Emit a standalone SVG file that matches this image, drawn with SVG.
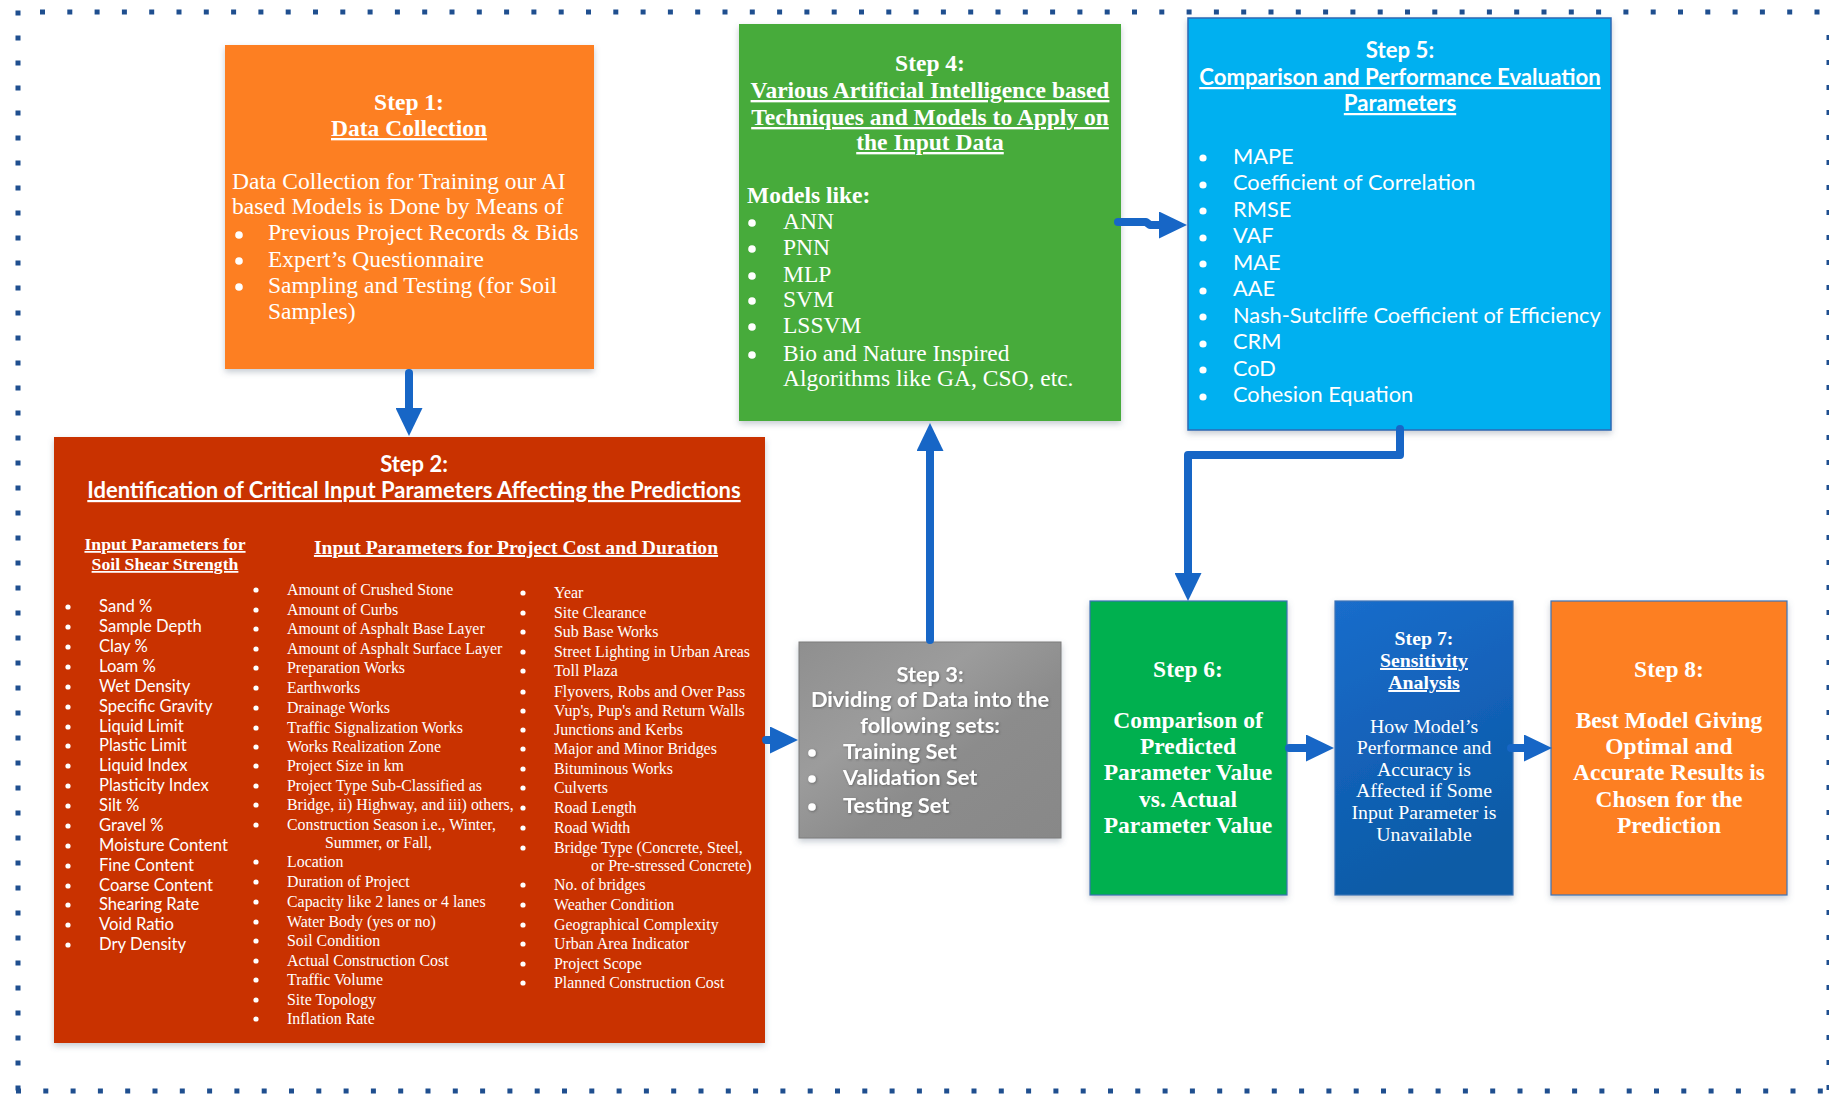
<svg xmlns="http://www.w3.org/2000/svg" width="1829" height="1094" viewBox="0 0 1829 1094">
  <style>
    text { fill: #ffffff; }
    .serif { font-family: "Liberation Serif", "Times New Roman", serif; }
    .sans { font-family: Lato, "Noto Sans", sans-serif; }
    .b { font-weight: bold; }
    .u { text-decoration: underline; }
    .c { text-anchor: middle; }
    .dot { fill: #ffffff; }
    .frame { stroke: #1f4f8f; stroke-width: 5; fill: none; }
    .conn { stroke: #1766c6; stroke-width: 8; fill: none; stroke-linecap: round; stroke-linejoin: round; }
    .f1 { font-size: 23.5px; }
    .f7 { font-size: 19.8px; }
    .fs { font-size: 15.9px; }
  </style>
  <defs>
    <marker id="head" markerUnits="userSpaceOnUse" viewBox="0 0 28 27" markerWidth="28" markerHeight="27" refX="14" refY="13.5" orient="auto">
      <path d="M0,0 L28,13.5 L0,27 Z" fill="#1766c6"/>
    </marker>
    <filter id="shadow" x="-5%" y="-5%" width="110%" height="115%">
      <feDropShadow dx="0" dy="3" stdDeviation="3" flood-color="#5a6a80" flood-opacity="0.35"/>
    </filter>
    <filter id="glow" x="-5%" y="-10%" width="110%" height="130%">
      <feDropShadow dx="0.8" dy="0.8" stdDeviation="0.9" flood-color="#404040" flood-opacity="0.6"/>
    </filter>
    <linearGradient id="grey" x1="0" y1="0" x2="1" y2="1">
      <stop offset="0" stop-color="#8f8f8f"/>
      <stop offset="0.35" stop-color="#9c9c9c"/>
      <stop offset="0.6" stop-color="#8c8c8c"/>
      <stop offset="1" stop-color="#888888"/>
    </linearGradient>
    <linearGradient id="blue7" x1="0" y1="0" x2="0.3" y2="1">
      <stop offset="0" stop-color="#1a6dcb"/>
      <stop offset="0.45" stop-color="#1463bb"/>
      <stop offset="1" stop-color="#0a5ba6"/>
    </linearGradient>
  </defs>

  <!-- dotted outer frame -->
  <g id="frame">
    <line class="frame" x1="40" y1="12" x2="1829" y2="12" stroke-dasharray="5 22.3"/>
    <line class="frame" x1="18" y1="10.5" x2="18" y2="1094" stroke-dasharray="5 20"/>
    <line class="frame" x1="16" y1="1091" x2="1829" y2="1091" stroke-dasharray="5 22.3"/>
    <line class="frame" x1="1829" y1="35" x2="1829" y2="1094" stroke-dasharray="5 20"/>
  </g>

  <!-- Step 1 -->
  <g id="step1">
    <rect x="225" y="45" width="369" height="324" fill="#fd7f24" filter="url(#shadow)"/>
    <text class="serif b c f1" x="409" y="110">Step 1:</text>
    <text class="serif b u c f1" x="409" y="136">Data Collection</text>
    <text class="serif f1" x="232" y="189">Data Collection for Training our AI</text>
    <text class="serif f1" x="232" y="214">based Models is Done by Means of</text>
    <circle class="dot" cx="239" cy="235" r="3.8"/>
    <circle class="dot" cx="239" cy="261" r="3.8"/>
    <circle class="dot" cx="239" cy="287" r="3.8"/>
    <text class="serif f1" x="268" y="240">Previous Project Records &amp; Bids</text>
    <text class="serif f1" x="268" y="267">Expert’s Questionnaire</text>
    <text class="serif f1" x="268" y="293">Sampling and Testing (for Soil</text>
    <text class="serif f1" x="268" y="319">Samples)</text>
  </g>

  <!-- Step 4 -->
  <g id="step4">
    <rect x="739" y="24" width="382" height="397" fill="#46ab3a" filter="url(#shadow)"/>
    <text class="serif b c f1" x="930" y="71">Step 4:</text>
    <text class="serif b u c f1" x="930" y="98">Various Artificial Intelligence based</text>
    <text class="serif b u c f1" x="930" y="125">Techniques and Models to Apply on</text>
    <text class="serif b u c f1" x="930" y="150">the Input Data</text>
    <text class="serif b f1" x="747" y="203">Models like:</text>
    <circle class="dot" cx="752" cy="223" r="3.8"/>
    <circle class="dot" cx="752" cy="249" r="3.8"/>
    <circle class="dot" cx="752" cy="276" r="3.8"/>
    <circle class="dot" cx="752" cy="301" r="3.8"/>
    <circle class="dot" cx="752" cy="327" r="3.8"/>
    <circle class="dot" cx="752" cy="355" r="3.8"/>
    <text class="serif f1" x="783" y="229">ANN</text>
    <text class="serif f1" x="783" y="255">PNN</text>
    <text class="serif f1" x="783" y="282">MLP</text>
    <text class="serif f1" x="783" y="307">SVM</text>
    <text class="serif f1" x="783" y="333">LSSVM</text>
    <text class="serif f1" x="783" y="361">Bio and Nature Inspired</text>
    <text class="serif f1" x="783" y="386">Algorithms like GA, CSO, etc.</text>
  </g>

  <!-- Step 5 -->
  <g id="step5">
    <rect x="1188" y="18" width="423" height="412" fill="#00b0f0" stroke="#2c68b4" stroke-width="1.5" filter="url(#shadow)"/>
    <text class="sans b c" x="1400" y="58" font-size="22.2">Step 5:</text>
    <text class="sans b u c" x="1400" y="85" font-size="22.2">Comparison and Performance Evaluation</text>
    <text class="sans b u c" x="1400" y="111" font-size="22.2">Parameters</text>
    <g class="sans" font-size="21.8">
      <circle class="dot" cx="1203" cy="158" r="3.6"/>
      <circle class="dot" cx="1203" cy="185" r="3.6"/>
      <circle class="dot" cx="1203" cy="211" r="3.6"/>
      <circle class="dot" cx="1203" cy="238" r="3.6"/>
      <circle class="dot" cx="1203" cy="264" r="3.6"/>
      <circle class="dot" cx="1203" cy="291" r="3.6"/>
      <circle class="dot" cx="1203" cy="317" r="3.6"/>
      <circle class="dot" cx="1203" cy="344" r="3.6"/>
      <circle class="dot" cx="1203" cy="370" r="3.6"/>
      <circle class="dot" cx="1203" cy="397" r="3.6"/>
      <text x="1233" y="164">MAPE</text>
      <text x="1233" y="190">Coefficient of Correlation</text>
      <text x="1233" y="217">RMSE</text>
      <text x="1233" y="243">VAF</text>
      <text x="1233" y="270">MAE</text>
      <text x="1233" y="296">AAE</text>
      <text x="1233" y="323">Nash-Sutcliffe Coefficient of Efficiency</text>
      <text x="1233" y="349">CRM</text>
      <text x="1233" y="376">CoD</text>
      <text x="1233" y="402">Cohesion Equation</text>
    </g>
  </g>

  <!-- Step 2 -->
  <g id="step2">
    <rect x="54" y="437" width="711" height="606" fill="#c93300" filter="url(#shadow)"/>
    <text class="sans b c" x="414" y="472" font-size="22">Step 2:</text>
    <text class="sans b u c" x="414" y="498" font-size="22">Identification of Critical Input Parameters Affecting the Predictions</text>
    <text class="serif b u c" x="165" y="550" font-size="17.7">Input Parameters for</text>
    <text class="serif b u c" x="165" y="570" font-size="17.7">Soil Shear Strength</text>
    <text class="serif b u c" x="516" y="554" font-size="19.6">Input Parameters for Project Cost and Duration</text>

    <!-- soil shear strength column -->
    <g class="sans" font-size="16.6">
      <g class="dot">
        <circle cx="68" cy="607" r="2.6"/><circle cx="68" cy="627" r="2.6"/>
        <circle cx="68" cy="647" r="2.6"/><circle cx="68" cy="667" r="2.6"/>
        <circle cx="68" cy="687" r="2.6"/><circle cx="68" cy="707" r="2.6"/>
        <circle cx="68" cy="727" r="2.6"/><circle cx="68" cy="746" r="2.6"/>
        <circle cx="68" cy="766" r="2.6"/><circle cx="68" cy="786" r="2.6"/>
        <circle cx="68" cy="806" r="2.6"/><circle cx="68" cy="826" r="2.6"/>
        <circle cx="68" cy="846" r="2.6"/><circle cx="68" cy="866" r="2.6"/>
        <circle cx="68" cy="886" r="2.6"/><circle cx="68" cy="905" r="2.6"/>
        <circle cx="68" cy="925" r="2.6"/><circle cx="68" cy="945" r="2.6"/>
      </g>
      <text x="99" y="612">Sand %</text>
      <text x="99" y="632">Sample Depth</text>
      <text x="99" y="652">Clay %</text>
      <text x="99" y="672">Loam %</text>
      <text x="99" y="692">Wet Density</text>
      <text x="99" y="712">Specific Gravity</text>
      <text x="99" y="732">Liquid Limit</text>
      <text x="99" y="751">Plastic Limit</text>
      <text x="99" y="771">Liquid Index</text>
      <text x="99" y="791">Plasticity Index</text>
      <text x="99" y="811">Silt %</text>
      <text x="99" y="831">Gravel %</text>
      <text x="99" y="851">Moisture Content</text>
      <text x="99" y="871">Fine Content</text>
      <text x="99" y="891">Coarse Content</text>
      <text x="99" y="910">Shearing Rate</text>
      <text x="99" y="930">Void Ratio</text>
      <text x="99" y="950">Dry Density</text>
    </g>

    <!-- project cost and duration, first column -->
    <g class="serif fs">
      <g class="dot">
        <circle cx="256" cy="590" r="2.6"/><circle cx="256" cy="610" r="2.6"/>
        <circle cx="256" cy="629" r="2.6"/><circle cx="256" cy="649" r="2.6"/>
        <circle cx="256" cy="668" r="2.6"/><circle cx="256" cy="688" r="2.6"/>
        <circle cx="256" cy="708" r="2.6"/><circle cx="256" cy="728" r="2.6"/>
        <circle cx="256" cy="747" r="2.6"/><circle cx="256" cy="766" r="2.6"/>
        <circle cx="256" cy="786" r="2.6"/><circle cx="256" cy="805" r="2.6"/>
        <circle cx="256" cy="825" r="2.6"/><circle cx="256" cy="862" r="2.6"/>
        <circle cx="256" cy="882" r="2.6"/><circle cx="256" cy="902" r="2.6"/>
        <circle cx="256" cy="922" r="2.6"/><circle cx="256" cy="941" r="2.6"/>
        <circle cx="256" cy="961" r="2.6"/><circle cx="256" cy="980" r="2.6"/>
        <circle cx="256" cy="1000" r="2.6"/><circle cx="256" cy="1019" r="2.6"/>
      </g>
      <text x="287" y="595">Amount of Crushed Stone</text>
      <text x="287" y="615">Amount of Curbs</text>
      <text x="287" y="634">Amount of Asphalt Base Layer</text>
      <text x="287" y="654">Amount of Asphalt Surface Layer</text>
      <text x="287" y="673">Preparation Works</text>
      <text x="287" y="693">Earthworks</text>
      <text x="287" y="713">Drainage Works</text>
      <text x="287" y="733">Traffic Signalization Works</text>
      <text x="287" y="752">Works Realization Zone</text>
      <text x="287" y="771">Project Size in km</text>
      <text x="287" y="791">Project Type Sub-Classified as</text>
      <text x="287" y="810">Bridge, ii) Highway, and iii) others,</text>
      <text x="287" y="830">Construction Season i.e., Winter,</text>
      <text x="325" y="848">Summer, or Fall,</text>
      <text x="287" y="867">Location</text>
      <text x="287" y="887">Duration of Project</text>
      <text x="287" y="907">Capacity like 2 lanes or 4 lanes</text>
      <text x="287" y="927">Water Body (yes or no)</text>
      <text x="287" y="946">Soil Condition</text>
      <text x="287" y="966">Actual Construction Cost</text>
      <text x="287" y="985">Traffic Volume</text>
      <text x="287" y="1005">Site Topology</text>
      <text x="287" y="1024">Inflation Rate</text>
    </g>

    <!-- project cost and duration, second column -->
    <g class="serif fs">
      <g class="dot">
        <circle cx="523" cy="593" r="2.6"/><circle cx="523" cy="613" r="2.6"/>
        <circle cx="523" cy="632" r="2.6"/><circle cx="523" cy="652" r="2.6"/>
        <circle cx="523" cy="671" r="2.6"/><circle cx="523" cy="692" r="2.6"/>
        <circle cx="523" cy="711" r="2.6"/><circle cx="523" cy="730" r="2.6"/>
        <circle cx="523" cy="749" r="2.6"/><circle cx="523" cy="769" r="2.6"/>
        <circle cx="523" cy="788" r="2.6"/><circle cx="523" cy="808" r="2.6"/>
        <circle cx="523" cy="828" r="2.6"/><circle cx="523" cy="848" r="2.6"/>
        <circle cx="523" cy="885" r="2.6"/><circle cx="523" cy="905" r="2.6"/>
        <circle cx="523" cy="925" r="2.6"/><circle cx="523" cy="944" r="2.6"/>
        <circle cx="523" cy="964" r="2.6"/><circle cx="523" cy="983" r="2.6"/>
      </g>
      <text x="554" y="598">Year</text>
      <text x="554" y="618">Site Clearance</text>
      <text x="554" y="637">Sub Base Works</text>
      <text x="554" y="657">Street Lighting in Urban Areas</text>
      <text x="554" y="676">Toll Plaza</text>
      <text x="554" y="697">Flyovers, Robs and Over Pass</text>
      <text x="554" y="716">Vup's, Pup's and Return Walls</text>
      <text x="554" y="735">Junctions and Kerbs</text>
      <text x="554" y="754">Major and Minor Bridges</text>
      <text x="554" y="774">Bituminous Works</text>
      <text x="554" y="793">Culverts</text>
      <text x="554" y="813">Road Length</text>
      <text x="554" y="833">Road Width</text>
      <text x="554" y="853">Bridge Type (Concrete, Steel,</text>
      <text x="591" y="871">or Pre-stressed Concrete)</text>
      <text x="554" y="890">No. of bridges</text>
      <text x="554" y="910">Weather Condition</text>
      <text x="554" y="930">Geographical Complexity</text>
      <text x="554" y="949">Urban Area Indicator</text>
      <text x="554" y="969">Project Scope</text>
      <text x="554" y="988">Planned Construction Cost</text>
    </g>
  </g>

  <!-- Step 3 -->
  <g id="step3">
    <rect x="799" y="642" width="262" height="196" fill="url(#grey)" stroke="#7c7c7c" stroke-width="1" filter="url(#shadow)"/>
    <g class="sans b" font-size="21.8" filter="url(#glow)">
      <text class="c" x="930" y="682">Step 3:</text>
      <text class="c" x="930" y="707">Dividing of Data into the</text>
      <text class="c" x="930" y="733">following sets:</text>
      <circle class="dot" cx="812" cy="753" r="3.8"/>
      <circle class="dot" cx="812" cy="779" r="3.8"/>
      <circle class="dot" cx="812" cy="807" r="3.8"/>
      <text x="843" y="759">Training Set</text>
      <text x="843" y="785">Validation Set</text>
      <text x="843" y="813">Testing Set</text>
    </g>
  </g>

  <!-- Step 6 -->
  <g id="step6">
    <rect x="1090" y="601" width="197" height="294" fill="#00b04f" stroke="#3c73b6" stroke-width="1.2" filter="url(#shadow)"/>
    <g class="serif b c f1">
      <text x="1188" y="677">Step 6:</text>
      <text x="1188" y="728">Comparison of</text>
      <text x="1188" y="754">Predicted</text>
      <text x="1188" y="780">Parameter Value</text>
      <text x="1188" y="807">vs. Actual</text>
      <text x="1188" y="833">Parameter Value</text>
    </g>
  </g>

  <!-- Step 7 -->
  <g id="step7">
    <rect x="1335" y="601" width="178" height="294" fill="url(#blue7)" stroke="#3c73b6" stroke-width="1.2" filter="url(#shadow)"/>
    <g class="serif c f7">
      <text class="b" x="1424" y="645">Step 7:</text>
      <text class="b u" x="1424" y="667">Sensitivity</text>
      <text class="b u" x="1424" y="689">Analysis</text>
      <text x="1424" y="733">How Model’s</text>
      <text x="1424" y="754">Performance and</text>
      <text x="1424" y="776">Accuracy is</text>
      <text x="1424" y="797">Affected if Some</text>
      <text x="1424" y="819">Input Parameter is</text>
      <text x="1424" y="841">Unavailable</text>
    </g>
  </g>

  <!-- Step 8 -->
  <g id="step8">
    <rect x="1551" y="601" width="236" height="294" fill="#fd7f24" stroke="#3c73b6" stroke-width="1.2" filter="url(#shadow)"/>
    <g class="serif b c f1">
      <text x="1669" y="677">Step 8:</text>
      <text x="1669" y="728">Best Model Giving</text>
      <text x="1669" y="754">Optimal and</text>
      <text x="1669" y="780">Accurate Results is</text>
      <text x="1669" y="807">Chosen for the</text>
      <text x="1669" y="833">Prediction</text>
    </g>
  </g>

  <!-- connectors -->
  <g id="connectors">
    <path class="conn" d="M409,373 V422" marker-end="url(#head)"/>
    <path class="conn" d="M766,740 H784" marker-end="url(#head)"/>
    <path class="conn" d="M930,640 V437" marker-end="url(#head)"/>
    <path class="conn" d="M1118,222 H1146 L1150,225 H1173" marker-end="url(#head)"/>
    <path class="conn" d="M1400,429 V455 H1188 V587" marker-end="url(#head)"/>
    <path class="conn" d="M1289,748 H1320" marker-end="url(#head)"/>
    <path class="conn" d="M1511,748 H1538" marker-end="url(#head)"/>
  </g>
</svg>
